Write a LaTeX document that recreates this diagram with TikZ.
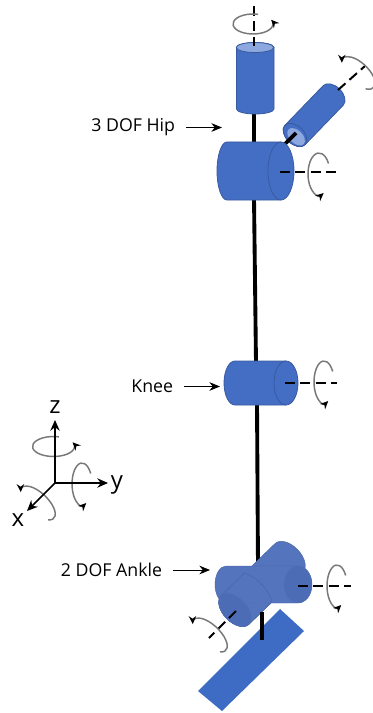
\documentclass[tikz,border=0pt]{standalone}
\usepackage{fontspec}
\setmainfont{Open Sans}
\usetikzlibrary{arrows.meta,positioning}
\definecolor{jointblue}{RGB}{68,110,196}
\definecolor{jointedge}{RGB}{56,90,160}
\definecolor{jointlight}{RGB}{140,168,222}
\definecolor{anklecolor}{RGB}{84,116,190}
\definecolor{ankleend}{RGB}{76,108,182}
\definecolor{footcolor}{RGB}{62,108,196}
\definecolor{turncolor}{RGB}{120,120,120}

\begin{document}
\begin{tikzpicture}[x=0.75pt,y=-0.75pt,
    every node/.style={font=\fontsize{13.3}{15}\selectfont},
    cyl/.style={fill=jointblue,draw=jointedge,line width=0.6pt},
    anklecyl/.style={fill=anklecolor,draw=anklecolor!85!black,line width=0.3pt},
    shaft/.style={black,line width=2.9pt},
    spin/.style={black,line width=1.5pt,dash pattern=on 7.5pt off 4pt},
    turn/.style={turncolor,line width=1.1pt,-{Stealth[black,length=6pt,width=5.5pt]}},
    labelarrow/.style={black,line width=0.7pt,-{Stealth[length=8pt,width=6.5pt]}},
    axisarrow/.style={black,line width=1.1pt,-{Stealth[length=8pt,width=7pt]}},
    jointlabel/.style={inner sep=8pt},
    axislabel/.style={font=\fontsize{18}{20}\selectfont,inner sep=0pt}]
    \useasboundingbox (0,0) rectangle (372,713);

    % ── Shafts ───────────────────────────────────────────────────────────────
    \coordinate (thightop) at (254,112);
    \coordinate (thighhip) at (254,145);
    \coordinate (thighmid) at (254,198);
    \coordinate (thighknee) at (256,363);
    \coordinate (shinknee) at (257,403);
    \coordinate (shinankle) at (258,567);
    \draw[shaft] (thightop) -- (thighhip);
    \draw[shaft] (thighmid) -- (thighknee);
    \draw[shaft] (shinknee) -- (shinankle);

    % ── Hip ──────────────────────────────────────────────────────────────────
    \draw[cyl] (236.5,47.5) -- (236.5,109) arc (180:0:18.75 and 5) -- (274,47.5) arc (0:-180:18.75 and 5) -- cycle;
    \draw[cyl,fill=jointlight] (255,47.5) ellipse (18.75 and 5);
    \begin{scope}[shift={(295,135)},rotate=46]
      \draw[cyl] (0,-14) -- (55,-14) arc (-90:90:9 and 14) -- (0,14) arc (90:270:9 and 14) -- cycle;
      \draw[cyl] (0,0) ellipse (9 and 14);
      \fill[jointlight] (-0.5,2) ellipse (6.5 and 10.5);
    \end{scope}
    \coordinate (hiplink) at (285,144);
    \coordinate (hiplinkend) at (296,133);
    \draw[shaft] (hiplink) -- (hiplinkend);

    % ── Horizontal joints: left edge, end ellipse, top, half height, radii ───
    \foreach \xl/\xr/\yt/\hh/\rl/\rr in {227/281/142/29/10/13, 235/286/361/22/11/12} {
      \draw[cyl] (\xl,\yt) -- (\xr,\yt) arc [start angle=-90,end angle=90,x radius=\rr,y radius=\hh]
        -- (\xl,\yt+2*\hh) arc [start angle=90,end angle=270,x radius=\rl,y radius=\hh] -- cycle;
      \draw[cyl] (\xr,\yt) arc [start angle=-90,end angle=-270,x radius=\rr,y radius=\hh];
    }

    % ── Ankle ────────────────────────────────────────────────────────────────
    \draw[fill=footcolor,draw=none] (280,609) -- (304,631) -- (222,711) -- (198,691) -- cycle;
    \begin{scope}[shift={(235,610)},rotate=44]
      \draw[anklecyl] (0,-20) -- (75,-20) arc (-90:90:12 and 20) -- (0,20) arc (90:270:12 and 20) -- cycle;
    \end{scope}
    \draw[anklecyl] (226,566) -- (298,566) arc (-90:90:14 and 18.5) -- (226,603) arc (90:270:11 and 18.5) -- cycle;
    \draw[fill=ankleend,draw=none] (298,566) arc (-90:-270:14 and 18.5) arc (90:-90:14 and 18.5) -- cycle;
    \begin{scope}[shift={(235,610)},rotate=44]
      \draw[anklecyl,fill opacity=0.75] (0,-20) -- (32,-20) arc (-60:60:10 and 23) -- (0,20) arc (90:270:12 and 20) -- cycle;
      \draw[fill=ankleend,draw=none] (0,0) ellipse (12 and 20);
    \end{scope}
    \coordinate (anklelink) at (262,612);
    \coordinate (anklelinkend) at (262,640);
    \draw[shaft] (anklelink) -- (anklelinkend);

    % ── Spin axes ────────────────────────────────────────────────────────────
    \coordinate (topaxisa) at (254,6);
    \coordinate (topaxisb) at (254,46);
    \coordinate (hipaxisa) at (280,171.5);
    \coordinate (hipaxisb) at (336,171.5);
    \coordinate (tiltaxisa) at (338,90);
    \coordinate (tiltaxisb) at (365,66);
    \coordinate (kneeaxisa) at (285,383);
    \coordinate (kneeaxisb) at (337,383);
    \coordinate (ankleaxisa) at (298,586);
    \coordinate (ankleaxisb) at (351,586);
    \coordinate (footaxisa) at (236,611);
    \coordinate (footaxisb) at (209,638);
    \foreach \a/\b in {topaxisa/topaxisb, hipaxisa/hipaxisb, tiltaxisa/tiltaxisb, kneeaxisa/kneeaxisb, ankleaxisa/ankleaxisb, footaxisa/footaxisb} {
      \draw[spin] (\a) -- (\b);
    }

    % ── Turn arrows: centre, tilt, radii, start and stop angle ───────────────
    \foreach \cx/\cy/\rot/\rx/\ry/\ts/\te in {
        253/24/0/20/10/285/-25, 53.5/446.5/0/21/10/285/-25,
        319/174/0/11/21/330/65, 324/382/0/10/21/330/65, 337/586/0/10/21/330/65, 82/484/0/10/21/330/65,
        358.5/73/46/10/21/130/-115, 210/635/46/10/22/120/-115, 38/503/46/10/22/120/-115} {
      \begin{scope}[shift={(\cx,\cy)},rotate=\rot]
        \draw[turn] ({\ts}:{\rx} and {\ry}) arc [start angle=\ts,end angle=\te,x radius=\rx,y radius=\ry];
      \end{scope}
    }

    % ── Labels ───────────────────────────────────────────────────────────────
    \node[jointlabel,anchor=east] (hiplabel) at (186,127.5) {3 DOF Hip};
    \node[jointlabel,anchor=east] (kneelabel) at (184,386.5) {Knee};
    \node[jointlabel,anchor=east] (anklelabel) at (173,570) {2 DOF Ankle};
    \coordinate (hipmark) at (222,127.5);
    \coordinate (kneemark) at (220,386.5);
    \coordinate (anklemark) at (210,570);
    \draw[labelarrow] (hiplabel) -- (hipmark);
    \draw[labelarrow] (kneelabel) -- (kneemark);
    \draw[labelarrow] (anklelabel) -- (anklemark);

    % ── Frame ────────────────────────────────────────────────────────────────
    \coordinate (origin) at (55,483);
    \node[axislabel] (zlabel) at (55,407) {z};
    \node[axislabel] (ylabel) at (117,485) {y};
    \node[axislabel] (xlabel) at (18,520) {x};
    \coordinate (ztip) at (55,420);
    \coordinate (ytip) at (108,483);
    \coordinate (xtip) at (27,511);
    \draw[axisarrow] (origin) -- (ztip);
    \draw[axisarrow] (origin) -- (ytip);
    \draw[axisarrow] (origin) -- (xtip);
\end{tikzpicture}
\end{document}
